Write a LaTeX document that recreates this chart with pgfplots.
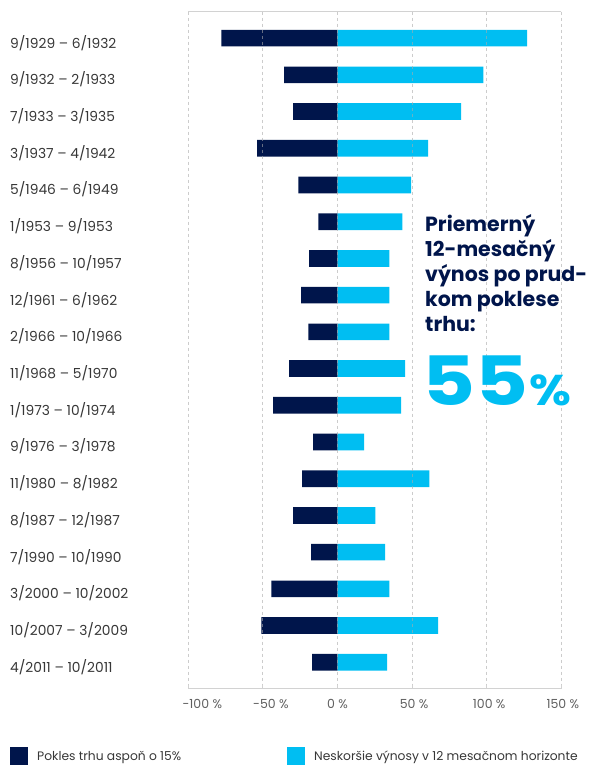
\documentclass[border=0pt]{standalone}
\usepackage{fontspec}
\setmainfont{Poppins}
\usepackage{graphicx}
\usepackage{pgfplots}
\pgfplotsset{compat=1.18}
\usepackage{pgfplotstable}
\definecolor{navy}{RGB}{0,21,75}
\definecolor{sky}{RGB}{0,190,242}
\definecolor{lab}{RGB}{55,55,55}
\definecolor{tickc}{RGB}{95,95,95}
\definecolor{gridc}{RGB}{170,170,170}
\pgfplotstableread{
y neg pos
0 -77.9 127.1
1 -35.7 97.7
2 -29.7 82.9
3 -53.8 60.8
4 -26.3 49.4
5 -12.9 43.4
6 -19.0 34.7
7 -24.3 34.7
8 -19.6 34.7
9 -32.4 45.4
10 -43.1 42.7
11 -16.3 17.9
12 -23.7 61.5
13 -29.7 25.3
14 -17.6 32.0
15 -44.4 34.7
16 -51.1 67.5
17 -17.0 33.3
}\data
\begin{document}
\begin{tikzpicture}
\path[use as bounding box] (0pt,0pt) rectangle (591pt,-765pt);
\begin{axis}[
  at={(188.3pt,-11.7pt)}, anchor=north west,
  scale only axis, width=373pt, height=677pt,
  xmin=-100, xmax=150, ymin=-0.72, ymax=17.72, y dir=reverse,
  xbar, bar width=16.7pt, bar shift=0pt,
  axis on top,
  separate axis lines,
  x axis line style={draw=gray!35, line width=1.2pt},
  y axis line style={draw=none},
  xmajorgrids,
  major grid style={draw=gridc, opacity=0.6, dashed, line width=0.9pt},
  xtick={-100,-50,0,50,100,150},
  xticklabels={\hspace{28pt}-100 \%,\hspace{16pt}-50 \%,0 \%,\hspace{4pt}50 \%,\hspace{5pt}100 \%,\hspace{3pt}150 \%},
  xtick pos=left, tick align=inside, major tick length=4pt,
  xtick style={draw=gray!35, line width=1pt},
  xticklabel style={anchor=base, yshift=-19.6pt, inner sep=0pt, font=\fontsize{12.5}{14}\selectfont, text=tickc},
  ytick={0,...,17},
  yticklabels={9/1929 – 6/1932, 9/1932 – 2/1933, 7/1933 – 3/1935, 3/1937 – 4/1942, 5/1946 – 6/1949, 1/1953 – 9/1953, 8/1956 – 10/1957, 12/1961 – 6/1962, 2/1966 – 10/1966, 11/1968 – 5/1970, 1/1973 – 10/1974, 9/1976 – 3/1978, 11/1980 – 8/1982, 8/1987 – 12/1987, 7/1990 – 10/1990, 3/2000 – 10/2002, 10/2007 – 3/2009, 4/2011 – 10/2011},
  ytick style={draw=none},
  yticklabel style={anchor=base west, inner sep=0pt, xshift=-178.3pt, yshift=-10pt, font=\fontsize{13.8}{15}\selectfont, text=lab},
  legend columns=2,
  legend cell align=left,
  legend style={at={(axis description cs:-0.478,-0.0861)}, anchor=north west, draw=none, fill=none, inner sep=0pt,
    font=\fontsize{12.3}{14}\selectfont, text=lab,
    /tikz/every even column/.append style={column sep=104pt}},
  legend image code/.code={\fill[#1] (0pt,-9pt) rectangle (18pt,9pt); \path (25pt,0pt);},
]
\addplot[fill=navy, draw=none] table[x=neg, y=y] {\data};
\addlegendentry{Pokles trhu aspoň o 15\%}
\addplot[fill=sky, draw=none] table[x=pos, y=y] {\data};
\addlegendentry{Neskoršie výnosy v 12 mesačnom horizonte}
\end{axis}
\begin{scope}[every node/.style={anchor=base west, inner sep=0pt, text=navy, font=\fontsize{20.5}{24}\selectfont\bfseries}]
\node at (425pt,-231.7pt) {Priemerný};
\node at (425pt,-256.7pt) {12-mesačný};
\node at (425pt,-281.7pt) {výnos po prud-};
\node at (425pt,-306.7pt) {kom poklese};
\node at (425pt,-331.7pt) {trhu:};
\end{scope}
\node[anchor=base west, inner sep=0pt, text=sky, font=\fontsize{68}{78}\selectfont\bfseries] (n55) at (422pt,-405pt) {\scalebox{1.2}[1]{55}};
\node[anchor=base west, inner sep=0pt, text=sky, font=\fontsize{43}{50}\selectfont\bfseries] at ([xshift=1pt]n55.base east) {\scalebox{1.12}[1]{\%}};
\end{tikzpicture}
\end{document}
